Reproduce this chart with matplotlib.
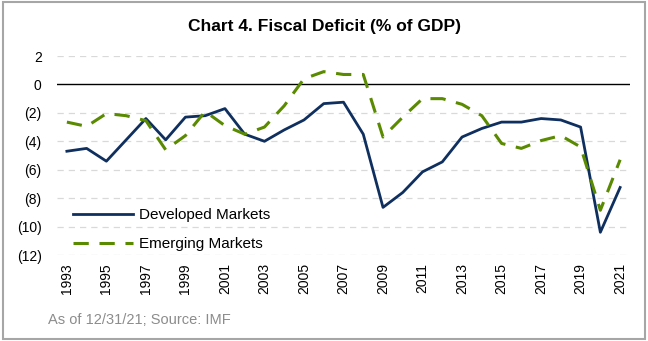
import numpy as np
import matplotlib
matplotlib.use("Agg")
import matplotlib.pyplot as plt
from matplotlib.patches import Rectangle

# ----- DATA -----
years = list(range(1993, 2022))
developed = [-4.7, -4.5, -5.4, -3.9, -2.4, -3.9, -2.3, -2.2, -1.7, -3.5,
             -4.0, -3.2, -2.5, -1.35, -1.25, -3.5, -8.65, -7.6, -6.15, -5.45,
             -3.7, -3.1, -2.65, -2.65, -2.4, -2.5, -3.0, -10.4, -7.25]
emerging = [-2.65, -2.95, -2.05, -2.2, -2.55, -4.6, -3.6, -1.9, -2.9, -3.5,
            -3.0, -1.5, 0.4, 0.9, 0.7, 0.7, -3.7, -2.3, -1.0, -1.0,
            -1.4, -2.2, -4.15, -4.5, -3.95, -3.6, -4.4, -8.85, -5.3]
yticks = [2, 0, -2, -4, -6, -8, -10, -12]

plt.rcParams['font.family'] = ['Liberation Sans', 'DejaVu Sans']

fig = plt.figure(figsize=(6.48, 3.41), dpi=100)
ax = fig.add_axes([57/648, 1 - 255/341, (630 - 57)/648, (255 - 56)/341])

x = np.arange(len(years))
ax.plot(x, developed, color="#0F2F5F", linewidth=2.0, label="Developed Markets")
ax.plot(x, emerging, color="#5A8A00", linewidth=2.2, linestyle=(0, (5, 3.5)),
        label="Emerging Markets")

# gridlines and zero line
for t in yticks:
    if t == 0:
        ax.axhline(0, color="black", linewidth=1.0, zorder=1)
    else:
        ax.axhline(t, color="#D9D9D9", linewidth=0.9, linestyle=(0, (5, 4)), zorder=0)

ax.set_xlim(-0.5, len(years) - 0.5)
ax.set_ylim(-12, 2)
ax.set_yticks(yticks)
ax.set_yticklabels([str(t) if t >= 0 else f"({-t})" for t in yticks], fontsize=10)
ax.set_xticks(x[::2])
ax.set_xticklabels([str(y) for y in years[::2]], rotation=90, fontsize=10)
ax.tick_params(axis="y", length=0, pad=11)
ax.tick_params(axis="x", length=0, pad=6)
for s in ax.spines.values():
    s.set_visible(False)

ax.legend(loc="lower left", bbox_to_anchor=(0.01, -0.035), frameon=False, fontsize=11,
          handlelength=3.9, handletextpad=0.4, labelspacing=1.0, borderaxespad=0.3)

fig.text(0.5, 1 - 27/341, "Chart 4. Fiscal Deficit (% of GDP)", ha="center", va="center",
         fontsize=12.5, fontweight="bold")
fig.text(48/648, 1 - 320/341, "As of 12/31/21; Source: IMF", ha="left", va="center",
         fontsize=10.5, color="#8C8C8C")

fig.patches.append(Rectangle((0.004, 0.006), 0.992, 0.988, transform=fig.transFigure,
                             fill=False, edgecolor="#A6A6A6", linewidth=1.5))

fig.savefig("out.png", dpi=100)
